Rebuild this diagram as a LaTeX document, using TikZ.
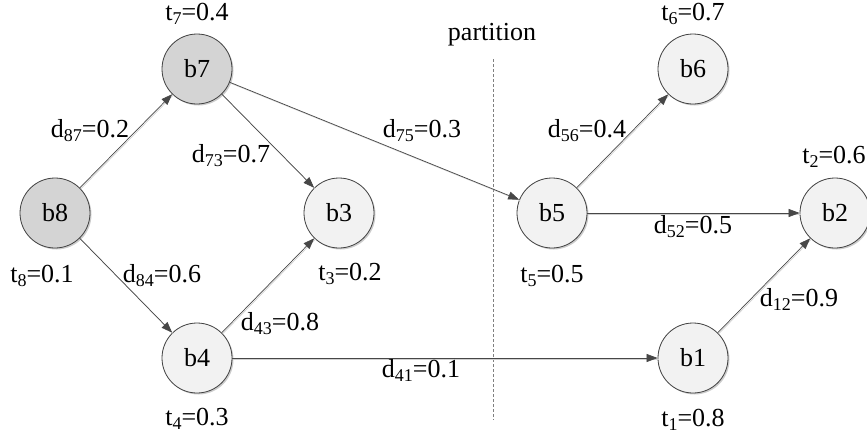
\documentclass[tikz,border=0pt]{standalone}
\usepackage{fontspec}
\setmainfont{Liberation Serif}
\usetikzlibrary{arrows.meta,shadows}
\newcommand\sbx[1]{\raisebox{-4pt}{\fontsize{18}{18}\selectfont #1}}
\begin{document}
\begin{tikzpicture}[x=1pt,y=-1pt,
  bnode/.style={circle, draw=black!75, line width=0.8pt, minimum size=70pt, inner sep=0pt,
    fill=black!5, drop shadow={shadow xshift=1.5pt, shadow yshift=-1.5pt, opacity=0.2, fill=black},
    font=\fontsize{26}{30}\selectfont},
  dark/.style={fill=black!17},
  lab/.style={anchor=base, inner sep=0pt, font=\fontsize{26}{30}\selectfont},
  edge/.style={draw=black!72, line width=0.7pt, -{Triangle[length=11pt,width=8pt]},
    preaction={draw=black!18, line width=0.7pt, -, transform canvas={xshift=1pt,yshift=-1pt}}},
  part/.style={draw=black!50, line width=0.7pt, dash pattern=on 3pt off 2pt}]
\useasboundingbox (0,0) rectangle (867,437);

\coordinate (pt) at (493,59);
\coordinate (pb) at (493,420);
\draw[part] (pt) -- (pb);

\node[bnode,dark] (b8) at (55,213) {b8};
\node[bnode,dark] (b7) at (197,69) {b7};
\node[bnode] (b3) at (339,213) {b3};
\node[bnode] (b4) at (197,358) {b4};
\node[bnode] (b5) at (552,213) {b5};
\node[bnode] (b6) at (693,69) {b6};
\node[bnode] (b2) at (835,213) {b2};
\node[bnode] (b1) at (693,358) {b1};

\draw[edge] (b8) -- (b7);
\draw[edge] (b8) -- (b4);
\draw[edge] (b7) -- (b3);
\draw[edge] (b7) -- (b5);
\draw[edge] (b4) -- (b3);
\draw[edge] (b4) -- (b1);
\draw[edge] (b5) -- (b6);
\draw[edge] (b5) -- (b2);
\draw[edge] (b1) -- (b2);

\node[lab] (lt7) at (197,20) {t\sbx{7}=0.4};
\node[lab] (lt6) at (693,20) {t\sbx{6}=0.7};
\node[lab] (lpart) at (492,40) {partition};
\node[lab] (ld87) at (90,137) {d\sbx{87}=0.2};
\node[lab] (ld73) at (231,162) {d\sbx{73}=0.7};
\node[lab] (ld75) at (422,137) {d\sbx{75}=0.3};
\node[lab] (ld56) at (587,137) {d\sbx{56}=0.4};
\node[lab] (lt2) at (834,163) {t\sbx{2}=0.6};
\node[lab] (lt8) at (42,282) {t\sbx{8}=0.1};
\node[lab] (ld84) at (162,282) {d\sbx{84}=0.6};
\node[lab] (lt3) at (350,280) {t\sbx{3}=0.2};
\node[lab] (lt5) at (552,282) {t\sbx{5}=0.5};
\node[lab] (ld52) at (693,233) {d\sbx{52}=0.5};
\node[lab] (ld43) at (280,330) {d\sbx{43}=0.8};
\node[lab] (ld12) at (799,306) {d\sbx{12}=0.9};
\node[lab] (ld41) at (421,377) {d\sbx{41}=0.1};
\node[lab] (lt4) at (197,425) {t\sbx{4}=0.3};
\node[lab] (lt1) at (693,426) {t\sbx{1}=0.8};
\end{tikzpicture}
\end{document}
